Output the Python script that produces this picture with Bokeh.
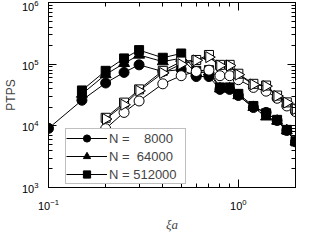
import math
from bokeh.plotting import figure
from bokeh.models import (LogAxis, FixedTicker, Legend, LegendItem,
                          CustomJSTickFormatter, LogTickFormatter)
from bokeh.embed import file_html
from bokeh.resources import INLINE

# ---- data ----
xa = [0.1, 0.15, 0.2, 0.25, 0.3, 0.4, 0.5, 0.6, 0.7, 0.8, 0.9, 1.0, 1.2, 1.4, 1.6, 1.8, 2.0]
xb = [0.15, 0.2, 0.25, 0.3, 0.4, 0.5, 0.6, 0.7, 0.8, 0.9, 1.0, 1.2, 1.4, 1.6, 1.8, 2.0]
xo = [0.2, 0.25, 0.3, 0.4, 0.5, 0.6, 0.7, 0.8, 0.9, 1.0, 1.2, 1.4, 1.6, 1.8, 2.0]

n8000 = [9100, 26000, 49500, 73500, 97500, 76000, 82000, 63000, 63000,
         39000, 39000, 31000, 19800, 16500, 12200, 8400, 5500]
n64000 = [32700, 68000, 103000, 141000, 110000, 125000, 72000, 75000,
          40000, 40000, 31000, 20000, 14000, 12000, 8400, 5500]
n512000 = [37500, 78000, 124000, 169000, 127000, 149000, 78000, 80000,
           42000, 42000, 33000, 21000, 16000, 12500, 8600, 5600]

open_circ = [9000, 16500, 25300, 48000, 65000, 76000, 80000, 65000, 65000,
             56000, 42000, 36500, 28000, 21000, 17000]
open_sq = [13500, 23800, 39000, 78000, 110000, 117000, 141000, 97500, 97500,
           70000, 48000, 45000, 31000, 24000, 19000]
open_tri = [12900, 22000, 37000, 72000, 100000, 115000, 130000, 95000, 95000,
            67600, 46700, 44000, 30400, 23800, 18700]

labels = ["N =\u2007\u20078000", "N =\u200764000", "N = 512000"]
x_title = "ξa"
y_title = "PTPS"

x_major = [0.1, 1.0]
y_major = [1e3, 1e4, 1e5, 1e6]

FONT = "Liberation Sans"

def log_minor(majors, upper):
    out = []
    for m in majors:
        for k in range(2, 10):
            v = m * k
            if v <= upper * 1.0001:
                out.append(v)
    return out

x_minor = log_minor(x_major, 2.0)
y_minor = log_minor(y_major, 1e6)

p = figure(width=302, height=234, x_axis_type="log", y_axis_type="log",
           x_range=(0.1, 2.0), y_range=(1e3, 1e6),
           output_backend="svg", toolbar_location=None,
           min_border_left=41, min_border_right=7, min_border_top=2,
           min_border_bottom=44)
p.xgrid.visible = False
p.ygrid.visible = False
p.outline_line_color = "black"
p.background_fill_color = "white"
p.border_fill_color = "white"

def style_axis(ax, major, minor):
    ax.ticker = FixedTicker(ticks=major, minor_ticks=minor)
    ax.major_tick_in = 8
    ax.major_tick_out = 0
    ax.minor_tick_in = 4
    ax.minor_tick_out = 0
    ax.axis_line_color = "black"
    ax.major_tick_line_color = "black"
    ax.minor_tick_line_color = "black"
    ax.major_label_text_font = FONT
    ax.major_label_text_font_size = "11px"
    ax.major_label_text_color = "black"

style_axis(p.xaxis[0], x_major, x_minor)
style_axis(p.yaxis[0], y_major, y_minor)
p.xaxis[0].formatter = LogTickFormatter()
p.yaxis[0].formatter = LogTickFormatter()
p.xaxis.major_label_standoff = 11
p.yaxis.major_label_standoff = 10

p.yaxis.axis_label = y_title
p.yaxis.axis_label_text_font = FONT
p.yaxis.axis_label_text_font_style = "normal"
p.yaxis.axis_label_text_font_size = "12px"
p.yaxis.axis_label_standoff = 1

p.xaxis.axis_label = x_title
p.xaxis.axis_label_text_font = "Liberation Serif"
p.xaxis.axis_label_text_font_style = "italic"
p.xaxis.axis_label_text_font_size = "13px"
p.xaxis.axis_label_standoff = 4

blank = CustomJSTickFormatter(code="return ''")
rax = LogAxis()
style_axis(rax, y_major, y_minor)
rax.formatter = blank
rax.major_label_standoff = 0
p.add_layout(rax, "right")
tax = LogAxis()
style_axis(tax, x_major, x_minor)
tax.formatter = blank
tax.major_label_standoff = 0
p.add_layout(tax, "above")

# filled series
l3 = p.line(xb, n512000, line_color="black", line_width=1)
s3 = p.scatter(xb, n512000, marker="square", size=9, fill_color="black", line_color="black")
l2 = p.line(xb, n64000, line_color="black", line_width=1)
s2 = p.scatter(xb, n64000, marker="triangle", size=11, fill_color="black", line_color="black")
l1 = p.line(xa, n8000, line_color="black", line_width=1)
s1 = p.scatter(xa, n8000, marker="circle", size=10, fill_color="black", line_color="black")

# open series
p.line(xo, open_circ, line_color="black", line_width=1)
p.scatter(xo, open_circ, marker="circle", size=10, fill_color="white", line_color="black")
p.line(xo, open_sq, line_color="black", line_width=1)
p.scatter(xo, open_sq, marker="square", size=9, fill_color="white", line_color="black")
p.line(xo, open_tri, line_color="black", line_width=1)
p.scatter(xo, open_tri, marker="triangle", size=11, angle=-math.pi / 2,
          fill_color="white", line_color="black")

legend = Legend(items=[LegendItem(label=labels[0], renderers=[l1, s1]),
                       LegendItem(label=labels[1], renderers=[l2, s2]),
                       LegendItem(label=labels[2], renderers=[l3, s3])],
                location=(17, 3), glyph_width=41, glyph_height=18,
                spacing=0, padding=0, margin=0, label_standoff=2,
                label_width=76, label_height=14,
                label_text_font=FONT, label_text_font_size="13px",
                border_line_color="#808080", border_line_width=1.5,
                background_fill_color="white", background_fill_alpha=1.0)
p.add_layout(legend, "center")

open("out.html", "w").write(file_html(p, INLINE))
